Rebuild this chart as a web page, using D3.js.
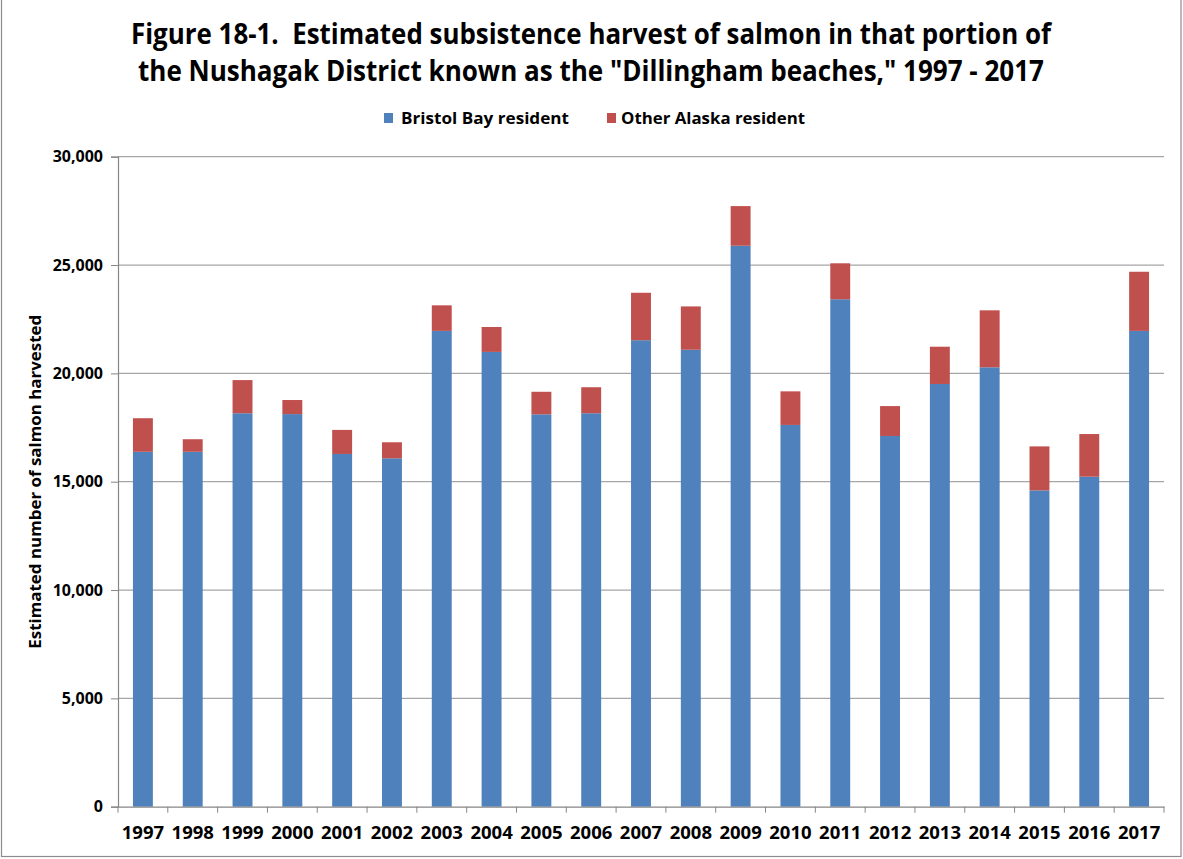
<!DOCTYPE html>
<html>
<head>
<meta charset="utf-8">
<script src="https://cdn.jsdelivr.net/npm/d3@7"></script>
<style>
  html, body { margin: 0; padding: 0; background: #ffffff; }
  svg { display: block; }
  text { font-family: "Open Sans", "Liberation Sans", sans-serif; font-weight: bold; fill: #000; }
</style>
</head>
<body>
<svg id="chart" width="1183" height="859"></svg>
<script>
// Subsistence salmon harvest, Dillingham beaches, by residency
const years = ["1997","1998","1999","2000","2001","2002","2003","2004","2005","2006","2007",
               "2008","2009","2010","2011","2012","2013","2014","2015","2016","2017"];
const bristolBay = [16380,16380,18160,18120,16280,16080,21960,20990,18110,18160,21530,
                    21090,25890,17620,23420,17110,19510,20280,14600,15230,21960];
const otherAlaska = [1550,580,1530,650,1110,740,1180,1150,1040,1200,2190,
                     2000,1830,1550,1660,1380,1720,2630,2030,1970,2730];
const seriesNames = ["Bristol Bay resident", "Other Alaska resident"];
const seriesColors = ["#4F81BD", "#C0504D"];
const yTicks = [0,5000,10000,15000,20000,25000,30000];

const rows = years.map((y, i) => ({ year: y, bb: bristolBay[i], oa: otherAlaska[i] }));
const stacked = d3.stack().keys(["bb", "oa"])(rows);

const svg = d3.select("#chart");
const plotLeft = 118, plotRight = 1164, plotTop = 156.7, plotBottom = 806.7;

const x = d3.scaleBand().domain(years).range([plotLeft, plotRight]).paddingInner(0.6).paddingOuter(0.3);
const y = d3.scaleLinear().domain([0, 30000]).range([plotBottom, plotTop]);

// outer frame
svg.append("rect").attr("x", 1.5).attr("y", -1).attr("width", 1179.5).attr("height", 857.5)
  .attr("fill", "none").attr("stroke", "#8c8c8c").attr("stroke-width", 1.2);

// title
const titleLines = [
  { t: "Figure 18-1.  Estimated subsistence harvest of salmon in that portion of", y: 44, w: 920 },
  { t: "the Nushagak District known as the \"Dillingham beaches,\" 1997 - 2017", y: 81, w: 906 }
];
svg.selectAll("text.title").data(titleLines).join("text")
  .attr("class", "title")
  .attr("x", 591).attr("y", d => d.y)
  .attr("text-anchor", "middle")
  .attr("font-size", 28)
  .attr("textLength", d => d.w).attr("lengthAdjust", "spacingAndGlyphs")
  .style("white-space", "pre")
  .text(d => d.t);

// legend
const legend = [
  { sx: 384, tx: 401, tw: 168 },
  { sx: 607, tx: 621, tw: 184 }
];
legend.forEach((l, i) => {
  svg.append("rect").attr("x", l.sx).attr("y", 113).attr("width", 9).attr("height", 10)
    .attr("fill", seriesColors[i]);
  svg.append("text").attr("x", l.tx).attr("y", 124).attr("font-size", 16.5)
    .attr("textLength", l.tw).attr("lengthAdjust", "spacingAndGlyphs")
    .text(seriesNames[i]);
});

// gridlines
svg.append("g").selectAll("line").data(yTicks.filter(d => d > 0)).join("line")
  .attr("x1", plotLeft).attr("x2", plotRight)
  .attr("y1", d => y(d)).attr("y2", d => y(d))
  .attr("stroke", "#a6a6a6").attr("stroke-width", 1.2);

// bars
svg.append("g").selectAll("g").data(stacked).join("g")
  .attr("fill", (d, i) => seriesColors[i])
  .selectAll("rect").data(d => d).join("rect")
  .attr("x", d => x(d.data.year))
  .attr("width", x.bandwidth())
  .attr("y", d => y(d[1]))
  .attr("height", d => y(d[0]) - y(d[1]));

// y axis
const yAxis = svg.append("g").attr("transform", `translate(${plotLeft},0)`)
  .call(d3.axisLeft(y).tickValues(yTicks).tickSize(7).tickPadding(8).tickFormat(d3.format(",")));
yAxis.select(".domain").attr("stroke", "#868686").attr("stroke-width", 1.2);
yAxis.selectAll(".tick line").attr("stroke", "#868686");
yAxis.selectAll(".tick text").attr("font-size", 16).attr("font-family", null)
  .attr("font-weight", "bold").attr("fill", "#000");

// x axis
const xAxis = svg.append("g").attr("transform", `translate(0,${plotBottom})`)
  .call(d3.axisBottom(x).tickSize(0).tickPadding(19));
xAxis.select(".domain").attr("stroke", "#868686").attr("stroke-width", 1.2);
xAxis.selectAll(".tick text").attr("font-size", 18.5).attr("font-family", null)
  .attr("font-weight", "bold").attr("fill", "#000");
// category separators below the axis
const step = x.step();
const bounds = d3.range(years.length + 1).map(i => plotLeft + i * step);
xAxis.selectAll("line.sep").data(bounds).join("line")
  .attr("class", "sep")
  .attr("x1", d => d).attr("x2", d => d).attr("y1", 0).attr("y2", 6)
  .attr("stroke", "#868686");

// y axis title
svg.append("text")
  .attr("transform", `translate(41,${(plotTop + plotBottom) / 2}) rotate(-90)`)
  .attr("text-anchor", "middle").attr("font-size", 16.5)
  .attr("textLength", 334).attr("lengthAdjust", "spacingAndGlyphs")
  .text("Estimated number of salmon harvested");
</script>
</body>
</html>
